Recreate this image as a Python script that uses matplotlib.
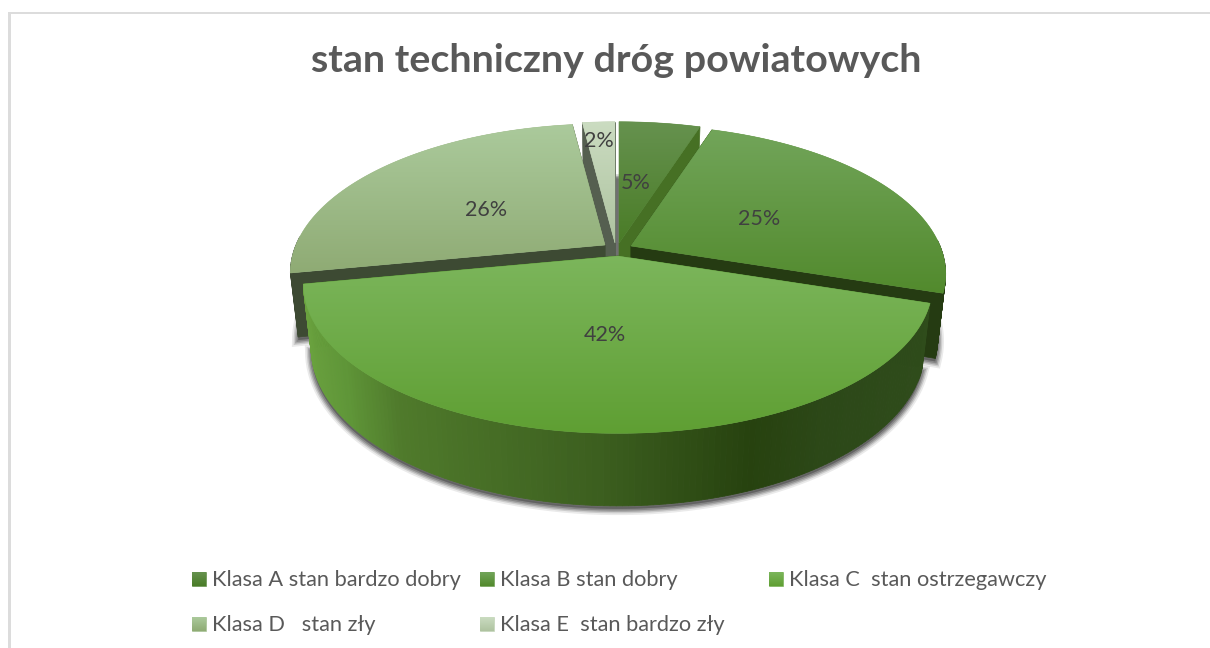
import numpy as np
import matplotlib
matplotlib.use("Agg")
import matplotlib.pyplot as plt
from matplotlib.colors import LinearSegmentedColormap
from matplotlib.patches import Polygon, Rectangle

plt.rcParams['font.family'] = ['Lato', 'DejaVu Sans']

title = "stan techniczny dróg powiatowych"
labels = ["Klasa A stan bardzo dobry", "Klasa B stan dobry", "Klasa C  stan ostrzegawczy",
          "Klasa D   stan zły", "Klasa E  stan bardzo zły"]
values = [5, 25, 42, 26, 2]

# look of each slice
apex_x = [619, 631, 618, 605, 615]
apex_y = [243, 246, 256, 245, 243]
top_cols = ['#66924f', '#72a55a', '#7cb65c', '#abca9c', '#cbdcc1']
bot_cols = ['#4a7c27', '#528a2d', '#5f9f33', '#8fab74', '#aec3a0']
wall_cols = ['#467024', '#253b12', '#2c4a1a', '#3d4a33', '#555f50']
label_x = [636, 759, 605, 486, 599]
label_y = [183, 219, 335, 210, 141]
legend_x = [199, 487, 776, 199, 487]
legend_y = [579, 579, 579, 624, 624]

# projection of the disc
rx, ry, k = 309, 144, 0.188
depth, shrink = 62.5, 0.975
draw_order = [4, 3, 0, 1, 2]

rim_x = [297, 345, 400, 600, 755, 830, 930]
rim_c = ['#6ba33f', '#5f9638', '#4f7a2b', '#3c5f1f', '#27420f', '#2c4818', '#2f4c1b']

fig = plt.figure(figsize=(12.1, 6.48), dpi=100)
ax = fig.add_axes([0, 0, 1, 1])


def project(theta, x0, y0):
    u, v = np.sin(theta), np.cos(theta)
    d = 1 + k*v
    return x0 + rx*u/d, y0 - ry*v/d


def lower(x, y, x0, y0, theta):
    d = 1 + k*np.cos(theta)
    return x0 + shrink*(x - x0), y0 + shrink*(y - y0) + depth/d


def gradient(poly, c1, c2, z):
    cmap = LinearSegmentedColormap.from_list('g', [c1, c2])
    # plain patch below smooths the jagged clip edge
    ax.add_patch(Polygon(poly, closed=True, fc=cmap(0.5), ec=cmap(0.5), lw=0.4, zorder=z))
    xs, ys = poly[:, 0], poly[:, 1]
    im = ax.imshow(np.linspace(0, 1, 256).reshape(-1, 1), cmap=cmap, aspect='auto', zorder=z,
                   extent=(xs.min(), xs.max(), ys.max(), ys.min()), interpolation='bilinear')
    clip = Polygon(poly, closed=True, transform=ax.transData, fc='none', ec='none')
    ax.add_patch(clip)
    im.set_clip_path(clip)


def rim_colour(x):
    pos = np.interp(x, rim_x, np.linspace(0, 1, len(rim_x)))
    return LinearSegmentedColormap.from_list('r', rim_c)(pos)


edges = np.concatenate([[0], np.cumsum(values)]) / sum(values) * 2*np.pi

# soft shadow under the bottom faces
for i in range(len(values)):
    t = np.linspace(edges[i], edges[i+1], 80)
    x, y = project(t, apex_x[i], apex_y[i])
    bx, by = lower(x, y, apex_x[i], apex_y[i], t)
    ax0, ay0 = apex_x[i], apex_y[i] + depth
    pts = np.column_stack([np.r_[ax0, bx], np.r_[ay0, by + 3]])
    for lw, a in zip([9, 6.5, 4.5, 2.5], [0.12, 0.2, 0.3, 0.4]):
        ax.add_patch(Polygon(pts, closed=True, fc='#555555', ec='#555555', lw=lw, alpha=a, zorder=1))

z = 2
for i in draw_order:
    x0, y0 = apex_x[i], apex_y[i]
    t = np.linspace(edges[i], edges[i+1], 160)
    x, y = project(t, x0, y0)
    bx, by = lower(x, y, x0, y0, t)
    bx0, by0 = x0, y0 + depth

    # radial walls
    for j in [0, -1]:
        quad = [(x0, y0), (x[j], y[j]), (bx[j], by[j]), (bx0, by0)]
        ax.add_patch(Polygon(quad, closed=True, fc=wall_cols[i], ec=wall_cols[i], lw=0.5, zorder=z))

    # outer wall, slice C has the shaded one. back of the rim is never seen
    for j in range(len(t) - 1):
        if np.cos(t[j]) > 0.05:
            continue
        c = rim_colour(x[j]) if i == 2 else wall_cols[i]
        quad = [(x[j], y[j]), (x[j+1], y[j+1]), (bx[j+1], by[j+1]), (bx[j], by[j])]
        ax.add_patch(Polygon(quad, closed=True, fc=c, ec=c, lw=0.6, zorder=z))

    # top face
    top = np.column_stack([np.r_[x0, x], np.r_[y0, y]])
    gradient(top, top_cols[i], bot_cols[i], z + 1)
    z += 2

for i in range(len(values)):
    ax.text(label_x[i], label_y[i], f"{values[i]}%", color='#404040', fontsize=15.5,
            ha='center', va='center', zorder=30)

ax.text(616, 61, title, color='#595959', fontsize=28.4, fontweight='bold', ha='center', va='center', zorder=30)

for i in range(len(labels)):
    sw = np.array([(legend_x[i] - 7, legend_y[i] - 7), (legend_x[i] + 7, legend_y[i] - 7),
                   (legend_x[i] + 7, legend_y[i] + 7), (legend_x[i] - 7, legend_y[i] + 7)])
    gradient(sw, top_cols[i], bot_cols[i], 30)
    ax.text(legend_x[i] + 13, legend_y[i] + 1, labels[i], color='#595959', fontsize=15.65,
            ha='left', va='center', zorder=30)

# chart frame, cut at right and bottom
ax.add_patch(Rectangle((8, 12), 1202, 2, fc='#dcdcdc', ec='none', zorder=0))
ax.add_patch(Rectangle((8, 12), 2.5, 636, fc='#dcdcdc', ec='none', zorder=0))

ax.set_xlim(0, 1210)
ax.set_ylim(648, 0)
ax.axis('off')
fig.savefig('out.png', dpi=100, facecolor='white')
